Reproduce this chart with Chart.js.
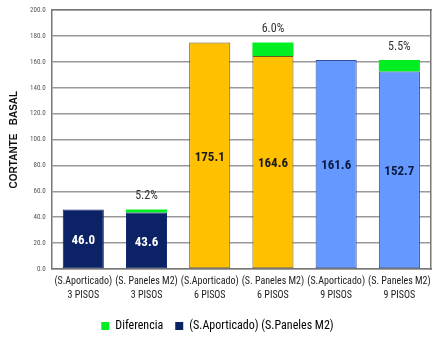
<!DOCTYPE html>
<html>
<head>
<meta charset="utf-8">
<script src="https://cdn.jsdelivr.net/npm/chart.js@4/dist/chart.umd.min.js"></script>
<style>
  html, body { margin: 0; padding: 0; background: #fff; }
  #wrap { width: 440px; height: 342px; }
</style>
</head>
<body>
<div id="wrap"><canvas id="grafico"></canvas></div>
<script>
const categorias = [
    ['(S.Aporticado)', '3 PISOS'],
    ['(S. Paneles M2)', '3 PISOS'],
    ['(S.Aporticado)', '6 PISOS'],
    ['(S. Paneles M2)', '6 PISOS'],
    ['(S.Aporticado)', '9 PISOS'],
    ['(S. Paneles M2)', '9 PISOS']
];
const cortante = [46.0, 43.6, 175.1, 164.6, 161.6, 152.7];
const diferencia = [null, 2.4, null, 10.5, null, 8.9];
const porcentaje = [null, '5.2%', null, '6.0%', null, '5.5%'];

const coresBarra = ['#0b2266', '#0b2266', '#ffc000', '#ffc000', '#6699ff', '#6699ff'];
const coresBorda = ['#0b2266', '#0b2266', '#6b5a20', '#6b5a20', '#2e4f99', '#2e4f99'];
const coresTexto = ['#ffffff', '#ffffff', '#1a1a1a', '#1a1a1a', '#0b1a40', '#0b1a40'];

const fonteNarrow = "'Liberation Sans Narrow', 'Roboto Condensed', Roboto, Arial, sans-serif";

// rótulos dentro das barras e porcentagens em cima
const rotulos = {
    id: 'rotulos',
    afterDatasetsDraw(chart) {
        const ctx = chart.ctx;
        const base = chart.getDatasetMeta(0);
        const dif = chart.getDatasetMeta(1);
        ctx.save();
        ctx.textAlign = 'center';
        ctx.textBaseline = 'middle';
        base.data.forEach((bar, i) => {
            ctx.font = "bold 13px " + fonteNarrow;
            ctx.fillStyle = coresTexto[i];
            ctx.fillText(cortante[i].toFixed(1), bar.x, (bar.y + bar.base) / 2 + 2);
            if (porcentaje[i]) {
                const topo = dif.data[i].y;
                ctx.font = "12px " + fonteNarrow;
                ctx.fillStyle = '#333333';
                ctx.fillText(porcentaje[i], bar.x, topo - 13);
            }
        });
        ctx.restore();
    }
};

const chart = new Chart(document.getElementById('grafico'), {
    type: 'bar',
    data: {
        labels: categorias,
        datasets: [{
            label: 'Cortante',
            data: cortante,
            backgroundColor: coresBarra,
            borderColor: coresBorda,
            borderWidth: 1,
            borderSkipped: false,
            barPercentage: 0.65,
            categoryPercentage: 1
        }, {
            label: 'Diferencia',
            data: diferencia,
            backgroundColor: '#00ee22',
            borderWidth: 0,
            barPercentage: 0.65,
            categoryPercentage: 1
        }]
    },
    plugins: [rotulos],
    options: {
        responsive: true,
        maintainAspectRatio: false,
        animation: false,
        layout: {
            padding: { top: 6, right: 9, left: 4, bottom: 0 }
        },
        scales: {
            x: {
                stacked: true,
                grid: { display: false, drawTicks: false },
                border: { color: '#777777', width: 1.5 },
                ticks: {
                    color: '#222222',
                    font: { size: 10, family: fonteNarrow, lineHeight: 1.35 },
                    padding: 6,
                    maxRotation: 0,
                    autoSkip: false
                }
            },
            y: {
                stacked: true,
                min: 0,
                max: 200,
                grid: { color: '#999999', lineWidth: 1.5, drawTicks: false },
                border: { color: '#777777', width: 1.5 },
                ticks: {
                    stepSize: 20,
                    color: '#555555',
                    font: { size: 7, family: fonteNarrow },
                    padding: 6,
                    callback: v => v.toFixed(1)
                },
                title: {
                    display: true,
                    text: 'CORTANTE   BASAL',
                    color: '#111111',
                    font: { size: 10, weight: 'bold', family: "'Liberation Sans', Arial, sans-serif" },
                    padding: { bottom: 4 }
                }
            },
            y2: {
                position: 'right',
                min: 0, max: 200,
                grid: { display: false, drawTicks: false },
                border: { color: '#777777', width: 1.5 },
                ticks: { display: false }
            },
            x2: {
                position: 'top',
                grid: { display: false, drawTicks: false },
                border: { color: '#777777', width: 1.5 },
                ticks: { display: false }
            }
        },
        plugins: {
            legend: {
                position: 'bottom',
                align: 'center',
                labels: {
                    boxWidth: 8,
                    boxHeight: 8,
                    padding: 12,
                    color: '#111111',
                    font: { size: 12, family: fonteNarrow },
                    generateLabels: () => [
                        { text: 'Diferencia', fillStyle: '#00ee22', strokeStyle: '#00ee22', lineWidth: 0, datasetIndex: 1 },
                        { text: '(S.Aporticado) (S.Paneles M2)', fillStyle: '#0b2266', strokeStyle: '#0b2266', lineWidth: 0, datasetIndex: 0 }
                    ]
                }
            },
            tooltip: { enabled: false }
        }
    }
});
</script>
</body>
</html>
